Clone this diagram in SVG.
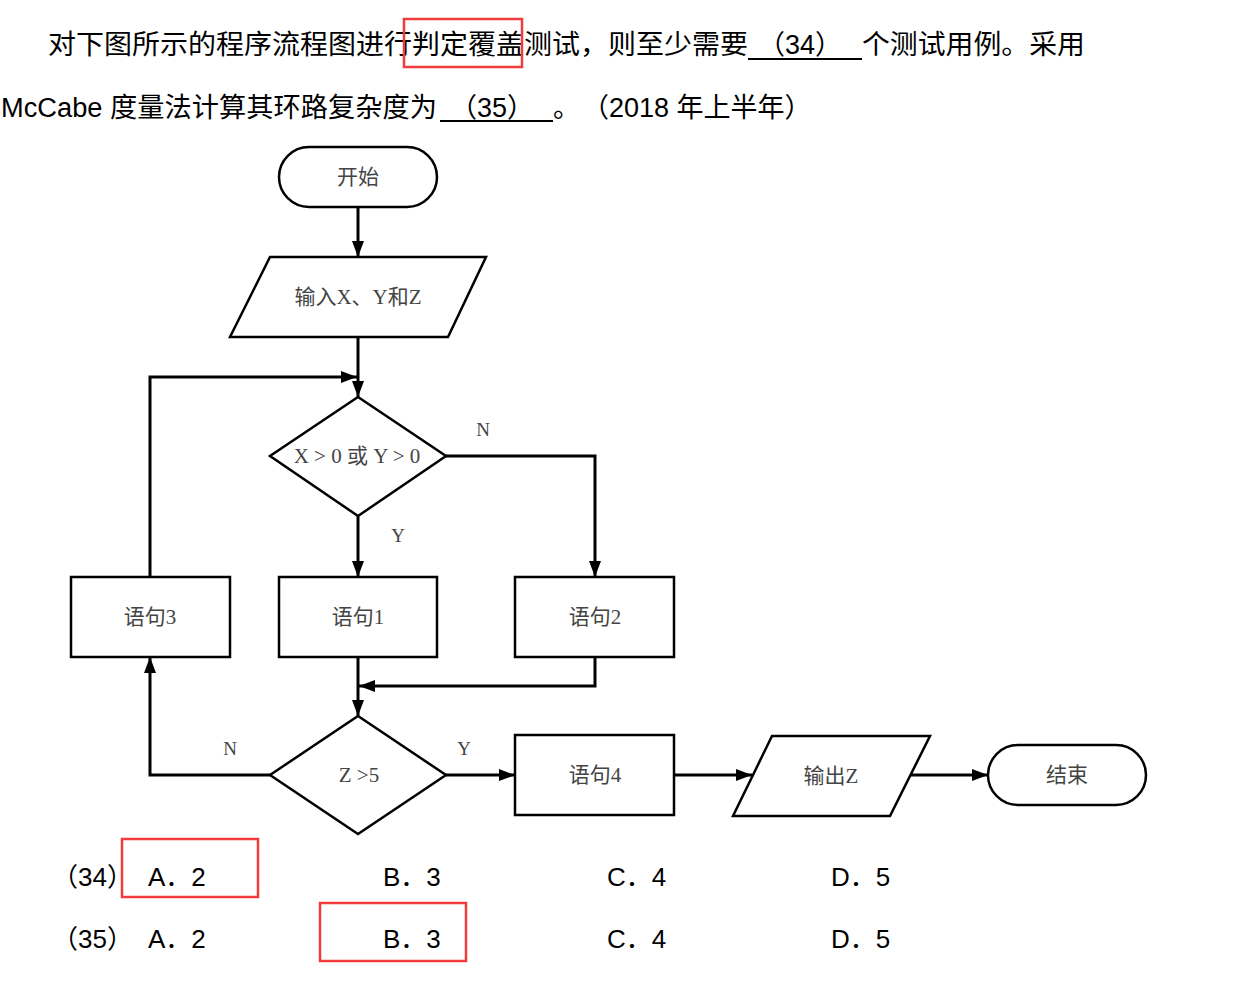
<svg xmlns="http://www.w3.org/2000/svg" width="1234" height="982" viewBox="0 0 1234 982">
<defs>
<marker id="ah" viewBox="0 0 16 12" refX="16" refY="6" markerWidth="16" markerHeight="12" markerUnits="userSpaceOnUse" orient="auto">
<path d="M0,0 L16,6 L0,12 Z" fill="#000"/>
</marker>
</defs>
<style>
.q{font-family:"Liberation Sans","Noto Sans CJK SC",sans-serif;font-size:27px;fill:#000}
.a{font-family:"Liberation Sans","Noto Sans CJK SC",sans-serif;font-size:26px;fill:#000}
.n{fill:#fff;stroke:#000;stroke-width:2.5}
.t{font-family:"Liberation Serif","Noto Sans CJK SC",serif;font-size:21px;fill:#444;text-anchor:middle;dominant-baseline:central}
.l{font-family:"Liberation Serif",serif;font-size:19px;fill:#444;text-anchor:middle;dominant-baseline:central}
.c{fill:none;stroke:#000;stroke-width:3}
.r{fill:none;stroke:#f03c3c;stroke-width:2.5}
.u{stroke:#000;stroke-width:2}
</style>
<rect width="1234" height="982" fill="#fff"/>
<g id="question">
<text class="q" x="48" y="54" textLength="700" lengthAdjust="spacingAndGlyphs">对下图所示的程序流程图进行判定覆盖测试，则至少需要</text>
<text class="q" x="758" y="54">（34）</text>
<line class="u" x1="748" y1="59" x2="862" y2="59"/>
<text class="q" x="862" y="54" textLength="223" lengthAdjust="spacingAndGlyphs">个测试用例。采用</text>
<text class="q" x="1" y="117" textLength="436" lengthAdjust="spacingAndGlyphs">McCabe 度量法计算其环路复杂度为</text>
<text class="q" x="450" y="117">（35）</text>
<line class="u" x1="440" y1="121" x2="553" y2="121"/>
<text class="q" x="553" y="117">。</text>
<text class="q" x="582" y="117">（2018 年上半年）</text>
<rect class="r" x="404" y="19" width="118" height="48"/>
</g>
<g id="connectors">
<line class="c" x1="358" y1="207" x2="358" y2="257" marker-end="url(#ah)"/>
<line class="c" x1="358" y1="337" x2="358" y2="397" marker-end="url(#ah)"/>
<polyline class="c" points="150,577 150,377 357,377" marker-end="url(#ah)"/>
<polyline class="c" points="446,456 595,456 595,577" marker-end="url(#ah)"/>
<line class="c" x1="358" y1="516" x2="358" y2="577" marker-end="url(#ah)"/>
<line class="c" x1="358" y1="657" x2="358" y2="716" marker-end="url(#ah)"/>
<polyline class="c" points="595,657 595,686 359,686" marker-end="url(#ah)"/>
<polyline class="c" points="270,775 150,775 150,657" marker-end="url(#ah)"/>
<line class="c" x1="446" y1="775" x2="515" y2="775" marker-end="url(#ah)"/>
<line class="c" x1="674" y1="775" x2="752" y2="775" marker-end="url(#ah)"/>
<line class="c" x1="910" y1="775" x2="988" y2="775" marker-end="url(#ah)"/>
<text class="l" x="483" y="429">N</text>
<text class="l" x="398" y="535">Y</text>
<text class="l" x="230" y="748">N</text>
<text class="l" x="464" y="748">Y</text>
</g>
<g id="start"><rect class="n" x="279" y="147" width="158" height="60" rx="30"/><text class="t" x="358" y="177">开始</text></g>
<g id="input"><polygon class="n" points="270,257 486,257 448,337 230,337"/><text class="t" x="358" y="297">输入X、Y和Z</text></g>
<g id="cond1"><polygon class="n" stroke-width="2" points="358,397 446,456 358,516 270,456"/><text class="t" x="357" y="456">X &gt; 0 或 Y &gt; 0</text></g>
<g id="s3"><rect class="n" x="71" y="577" width="159" height="80"/><text class="t" x="150" y="617">语句3</text></g>
<g id="s1"><rect class="n" x="279" y="577" width="158" height="80"/><text class="t" x="358" y="617">语句1</text></g>
<g id="s2"><rect class="n" x="515" y="577" width="159" height="80"/><text class="t" x="595" y="617">语句2</text></g>
<g id="cond2"><polygon class="n" stroke-width="2" points="358,716 446,775 358,834 270,775"/><text class="t" x="359" y="775">Z &gt;5</text></g>
<g id="s4"><rect class="n" x="515" y="735" width="159" height="80"/><text class="t" x="595" y="775">语句4</text></g>
<g id="output"><polygon class="n" stroke-width="2" points="772,736 930,736 890,816 733,816"/><text class="t" x="831" y="776">输出Z</text></g>
<g id="end"><rect class="n" stroke-width="2" x="988" y="745" width="158" height="60" rx="30"/><text class="t" x="1067" y="775">结束</text></g>
<g id="answers">
<text class="a" x="52" y="886">（34）</text>
<text class="a" x="148" y="886">A．2</text>
<text class="a" x="383" y="886">B．3</text>
<text class="a" x="607" y="886">C．4</text>
<text class="a" x="831" y="886">D．5</text>
<text class="a" x="52" y="948">（35）</text>
<text class="a" x="148" y="948">A．2</text>
<text class="a" x="383" y="948">B．3</text>
<text class="a" x="607" y="948">C．4</text>
<text class="a" x="831" y="948">D．5</text>
<rect class="r" x="122" y="839" width="136" height="58"/>
<rect class="r" x="320" y="903" width="146" height="58"/>
</g>
</svg>
